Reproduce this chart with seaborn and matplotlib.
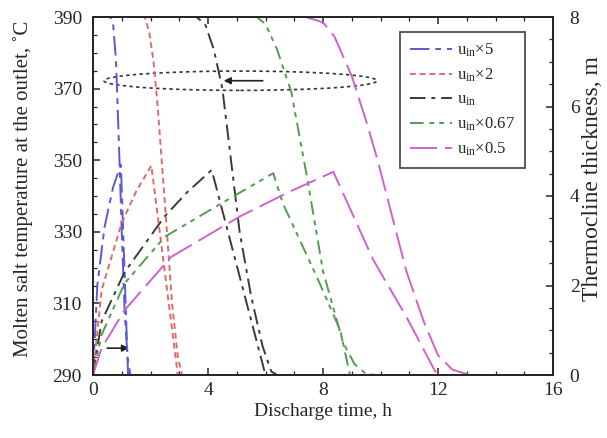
import matplotlib
matplotlib.use("Agg")
import matplotlib.pyplot as plt
from matplotlib.patches import Ellipse
from matplotlib.ticker import MultipleLocator
import seaborn as sns
import pandas as pd

# Outlet temperature (left axis) for each inlet velocity case
t_temp_x5 = [0, 0.6, 0.7, 0.8, 0.9, 1.0, 1.1, 1.2, 1.3]
temp_x5 = [390, 390, 388, 378, 355, 330, 308, 295, 290]
t_temp_x2 = [0, 1.8, 1.95, 2.1, 2.25, 2.5, 2.75, 2.95, 3.1]
temp_x2 = [390, 390, 386, 378, 365, 338, 310, 295, 290]
t_temp_x1 = [0, 3.6, 3.9, 4.2, 4.5, 4.8, 5.1, 5.5, 5.9, 6.2, 6.4]
temp_x1 = [390, 390, 388, 381, 370, 350, 330, 312, 298, 291, 290]
t_temp_x067 = [0, 5.7, 6.0, 6.4, 6.9, 7.45, 8.0, 8.7, 9.1, 9.5, 9.8]
temp_x067 = [390, 390, 388, 381, 369, 345, 319, 299, 293, 290.3, 290]
t_temp_x05 = [0, 7.4, 8.0, 8.4, 9.0, 9.5, 9.9, 10.9, 11.5, 12.0, 12.5, 13.1]
temp_x05 = [390, 390, 388.5, 384.5, 373.5, 361, 350, 319, 305, 295.5, 291.5, 290]

# Thermocline thickness (right axis)
t_thk_x5 = [0, 0.15, 0.4, 0.7, 0.97, 1.22]
thk_x5 = [0, 2.0, 3.3, 4.2, 4.7, 0]
t_thk_x2 = [0, 0.3, 1.0, 1.5, 2.03, 2.95]
thk_x2 = [0, 1.9, 3.4, 4.1, 4.68, 0]
t_thk_x1 = [0, 0.3, 1.1, 2.5, 3.3, 4.13, 6.0]
thk_x1 = [0, 1.2, 2.3, 3.55, 4.1, 4.58, 0]
t_thk_x067 = [0, 0.3, 1.1, 2.5, 4.48, 6.27, 6.6, 7.78, 8.6, 8.94]
thk_x067 = [0, 0.9, 2.05, 3.09, 3.84, 4.51, 3.84, 2.2, 1.0, 0]
t_thk_x05 = [0, 0.3, 1.1, 2.72, 5.1, 6.85, 8.36, 9.75, 10.9, 11.97]
thk_x05 = [0, 0.6, 1.45, 2.64, 3.54, 4.1, 4.54, 2.57, 1.3, 0]

temp_ticks = [290, 310, 330, 350, 370, 390]
time_ticks = [0, 4, 8, 12, 16]
thk_ticks = [0, 2, 4, 6, 8]

labels = [r"u$_{\mathregular{in}}$×5", r"u$_{\mathregular{in}}$×2",
          r"u$_{\mathregular{in}}$", r"u$_{\mathregular{in}}$×0.67",
          r"u$_{\mathregular{in}}$×0.5"]
colors = ["#5a5ad2", "#e06a6a", "#3a3a3a", "#4f9f4f", "#cf62cf"]
styles = [(0, (10, 3, 3, 3)), (0, (3, 2)), (0, (8, 3, 2, 3)),
          (0, (7, 3, 2.5, 2.5, 2.5, 3)), (0, (14, 4))]

temp_sets = [(t_temp_x5, temp_x5), (t_temp_x2, temp_x2), (t_temp_x1, temp_x1),
             (t_temp_x067, temp_x067), (t_temp_x05, temp_x05)]
thk_sets = [(t_thk_x5, thk_x5), (t_thk_x2, thk_x2), (t_thk_x1, thk_x1),
            (t_thk_x067, thk_x067), (t_thk_x05, thk_x05)]

sns.set_style("ticks")
plt.rcParams["font.family"] = ["Liberation Serif", "DejaVu Serif"]
plt.rcParams["mathtext.fontset"] = "custom"
plt.rcParams["mathtext.rm"] = "Liberation Serif"
plt.rcParams["mathtext.it"] = "Liberation Serif:italic"
plt.rcParams["axes.linewidth"] = 1.3

fig = plt.figure(figsize=(6.07, 4.38), dpi=100)
ax = fig.add_axes([93 / 607, 1 - 375 / 438, 460 / 607, 358 / 438])
ax2 = ax.twinx()

handles = []
for (tx, ty), (hx, hy), lab, c, ls in zip(temp_sets, thk_sets, labels, colors, styles):
    d1 = pd.DataFrame({"t": tx, "v": ty})
    d2 = pd.DataFrame({"t": hx, "v": hy})
    sns.lineplot(data=d1, x="t", y="v", ax=ax, color=c, linestyle=ls,
                 linewidth=1.4, estimator=None, sort=False)
    sns.lineplot(data=d2, x="t", y="v", ax=ax2, color=c, linestyle=ls,
                 linewidth=1.4, estimator=None, sort=False)
    handles.append(plt.Line2D([], [], color=c, linestyle=ls, linewidth=1.4, label=lab))

ax.set_xlim(0, 16)
ax.set_ylim(290, 390)
ax2.set_ylim(0, 8)
ax.set_xticks(time_ticks)
ax.set_yticks(temp_ticks)
ax2.set_yticks(thk_ticks)
ax.xaxis.set_minor_locator(MultipleLocator(1))
ax.yaxis.set_minor_locator(MultipleLocator(5))
ax2.yaxis.set_minor_locator(MultipleLocator(0.5))

ax.tick_params(axis="both", which="both", direction="in", labelsize=14, top=True)
ax.tick_params(axis="y", which="major", pad=8)
ax.tick_params(axis="x", which="major", pad=5)
ax.tick_params(which="major", length=5, width=1.1)
ax.tick_params(which="minor", length=3, width=0.9)
ax2.tick_params(axis="y", which="both", direction="in", labelsize=14)
ax2.tick_params(which="major", length=5, width=1.1, pad=12)
ax2.tick_params(which="minor", length=3, width=0.9)

ax.set_xlabel("Discharge time, h", fontsize=14, labelpad=3)
ax.set_ylabel("Molten salt temperature at the outlet, ˚C", fontsize=15, labelpad=6)
ax2.set_ylabel("Thermocline thickness, m", fontsize=17, labelpad=2)
ax.yaxis.set_label_coords(-0.13, 0.52)
ax2.yaxis.set_label_coords(1.062, 0.55)

# Group marker for the outlet-temperature curves, pointing to the left axis
ax.add_patch(Ellipse((5.13, 372.2), 9.5, 5.4, fill=False, edgecolor="#333333",
                     linestyle=(0, (2, 2)), linewidth=1.2))
ax.annotate("", xy=(4.45, 372.2), xytext=(6.0, 372.2),
            arrowprops=dict(arrowstyle="-|>", color="#222222", lw=1.2,
                            mutation_scale=10))
# Arrow marking the thickness curves, pointing to the right axis
ax.annotate("", xy=(1.35, 297.5), xytext=(0.4, 297.5),
            arrowprops=dict(arrowstyle="-|>", color="#222222", lw=1.2,
                            mutation_scale=10))

leg = ax2.legend(handles=handles, loc="upper right", bbox_to_anchor=(0.939, 0.958),
                 borderaxespad=0, fontsize=12, frameon=True, fancybox=False,
                 handlelength=2.5, handletextpad=0.3, labelspacing=0.45,
                 borderpad=0.6)
leg.get_frame().set_edgecolor("#222222")
leg.get_frame().set_linewidth(1.3)

for sp in ax.spines.values():
    sp.set_color("#222222")

fig.savefig("out.png", dpi=100)
